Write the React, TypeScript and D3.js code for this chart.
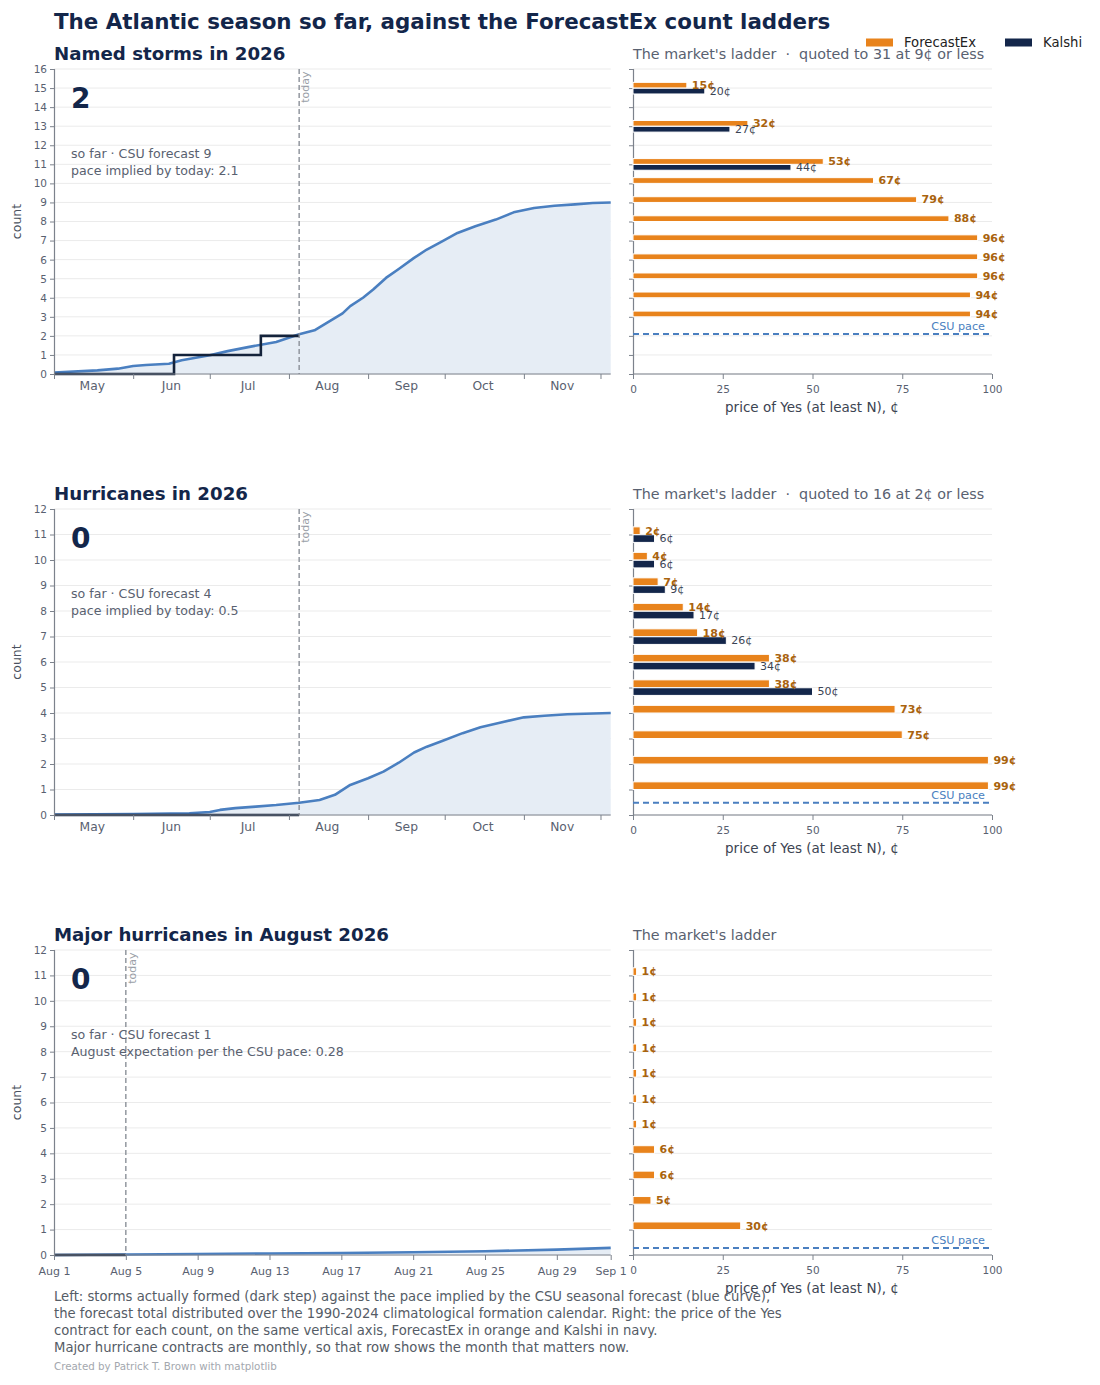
import { useEffect, useRef } from "react";
import * as d3 from "d3";

const TODAY = "2026-08-05";

// Named storms: CSU pace (cumulative expected count) and storms formed so far
const NAMED_PACE_DATES = [
  "2026-05-01", "2026-05-18", "2026-05-26", "2026-06-01", "2026-06-06", "2026-06-15",
  "2026-06-20", "2026-07-01", "2026-07-08", "2026-07-16", "2026-07-27", "2026-08-05",
  "2026-08-11", "2026-08-16", "2026-08-22", "2026-08-25", "2026-08-30", "2026-09-03",
  "2026-09-08", "2026-09-13", "2026-09-19", "2026-09-24", "2026-09-30", "2026-10-06",
  "2026-10-13", "2026-10-21", "2026-10-28", "2026-11-05", "2026-11-13", "2026-11-21",
  "2026-11-28", "2026-12-05",
];
const NAMED_PACE = [
  0.08, 0.19, 0.28, 0.42, 0.47, 0.54, 0.72, 0.98, 1.2, 1.41, 1.68, 2.08, 2.29, 2.69, 3.18,
  3.56, 4.0, 4.43, 5.04, 5.51, 6.09, 6.53, 6.96, 7.4, 7.75, 8.1, 8.48, 8.71, 8.83, 8.9, 8.97, 9.0,
];
const NAMED_FORMED = ["2026-06-17", "2026-07-21"];
const NAMED_FX_N = [15, 13, 11, 10, 9, 8, 7, 6, 5, 4, 3];
const NAMED_FX_PRICE = [15, 32, 53, 67, 79, 88, 96, 96, 96, 94, 94];
const NAMED_KALSHI_N = [15, 13, 11];
const NAMED_KALSHI_PRICE = [20, 27, 44];

// Hurricanes
const HURR_PACE_DATES = [
  "2026-05-01", "2026-06-01", "2026-06-23", "2026-07-01", "2026-07-05", "2026-07-11",
  "2026-07-19", "2026-07-27", "2026-08-05", "2026-08-13", "2026-08-19", "2026-08-25",
  "2026-09-01", "2026-09-07", "2026-09-13", "2026-09-19", "2026-09-24", "2026-09-30",
  "2026-10-08", "2026-10-15", "2026-10-23", "2026-11-01", "2026-11-09", "2026-11-18",
  "2026-12-05",
];
const HURR_PACE = [
  0.02, 0.04, 0.07, 0.12, 0.2, 0.27, 0.33, 0.39, 0.48, 0.59, 0.79, 1.18, 1.44, 1.7, 2.05,
  2.45, 2.68, 2.9, 3.21, 3.44, 3.63, 3.83, 3.89, 3.95, 4.0,
];
const HURR_FORMED: string[] = [];
const HURR_FX_N = [11, 10, 9, 8, 7, 6, 5, 4, 3, 2, 1];
const HURR_FX_PRICE = [2, 4, 7, 14, 18, 38, 38, 73, 75, 99, 99];
const HURR_KALSHI_N = [11, 10, 9, 8, 7, 6, 5];
const HURR_KALSHI_PRICE = [6, 6, 9, 17, 26, 34, 50];

// Major hurricanes in August
const MAJOR_PACE_DATES = [
  "2026-08-01", "2026-08-05", "2026-08-09", "2026-08-13", "2026-08-17", "2026-08-21",
  "2026-08-25", "2026-08-29", "2026-09-01",
];
const MAJOR_PACE = [0.0, 0.02, 0.04, 0.06, 0.08, 0.11, 0.15, 0.21, 0.28];
const MAJOR_FORMED: string[] = [];
const MAJOR_FX_N = [11, 10, 9, 8, 7, 6, 5, 4, 3, 2, 1];
const MAJOR_FX_PRICE = [1, 1, 1, 1, 1, 1, 1, 6, 6, 5, 30];
const MAJOR_KALSHI_N: number[] = [];
const MAJOR_KALSHI_PRICE: number[] = [];
const AUG_TICKS = [
  "2026-08-01", "2026-08-05", "2026-08-09", "2026-08-13", "2026-08-17", "2026-08-21",
  "2026-08-25", "2026-08-29", "2026-09-01",
];

const FOOTER = [
  "Left: storms actually formed (dark step) against the pace implied by the CSU seasonal forecast (blue curve),",
  "the forecast total distributed over the 1990-2024 climatological formation calendar. Right: the price of the Yes",
  "contract for each count, on the same vertical axis, ForecastEx in orange and Kalshi in navy.",
  "Major hurricane contracts are monthly, so that row shows the month that matters now.",
];

const FONT = "DejaVu Sans, sans-serif";
const NAVY = "#13264a";
const ORANGE = "#e8831c";
const ORANGE_TXT = "#a9630e";
const BLUE = "#4a7fc0";
const FILL = "#e6edf5";
const GRID = "#ebebeb";
const SPINE = "#7c828c";
const MUTED = "#596170";

const LEFT_X: [number, number] = [54, 610.7];
const RIGHT_X: [number, number] = [633, 992];

const ROWS = [
  {
    title: "Named storms in 2026", top: 69, bottom: 374, ymax: 16,
    start: "2026-05-01", end: "2026-12-05", monthly: true,
    big: "2", note1: "so far · CSU forecast 9", note2: "pace implied by today: 2.1", pace: 2.1,
    ladder: "The market's ladder  ·  quoted to 31 at 9¢ or less",
    paceDates: NAMED_PACE_DATES, paceVals: NAMED_PACE, formed: NAMED_FORMED,
    fxN: NAMED_FX_N, fxP: NAMED_FX_PRICE, kaN: NAMED_KALSHI_N, kaP: NAMED_KALSHI_PRICE,
  },
  {
    title: "Hurricanes in 2026", top: 509, bottom: 815, ymax: 12,
    start: "2026-05-01", end: "2026-12-05", monthly: true,
    big: "0", note1: "so far · CSU forecast 4", note2: "pace implied by today: 0.5", pace: 0.48,
    ladder: "The market's ladder  ·  quoted to 16 at 2¢ or less",
    paceDates: HURR_PACE_DATES, paceVals: HURR_PACE, formed: HURR_FORMED,
    fxN: HURR_FX_N, fxP: HURR_FX_PRICE, kaN: HURR_KALSHI_N, kaP: HURR_KALSHI_PRICE,
  },
  {
    title: "Major hurricanes in August 2026", top: 950, bottom: 1255, ymax: 12,
    start: "2026-08-01", end: "2026-09-01", monthly: false,
    big: "0", note1: "so far · CSU forecast 1", note2: "August expectation per the CSU pace: 0.28", pace: 0.28,
    ladder: "The market's ladder",
    paceDates: MAJOR_PACE_DATES, paceVals: MAJOR_PACE, formed: MAJOR_FORMED,
    fxN: MAJOR_FX_N, fxP: MAJOR_FX_PRICE, kaN: MAJOR_KALSHI_N, kaP: MAJOR_KALSHI_PRICE,
  },
];

function styleAxis(g: any, size: number) {
  g.attr("font-family", FONT);
  g.select(".domain").attr("stroke", SPINE).attr("stroke-width", 1.2);
  g.selectAll(".tick line").attr("stroke", SPINE);
  g.selectAll(".tick text").attr("fill", MUTED).attr("font-size", size);
}

export default function App() {
  const svgRef = useRef<SVGSVGElement>(null);

  useEffect(() => {
    if (!svgRef.current) return;
    const svg = d3.select(svgRef.current);
    svg.selectAll("*").remove();
    const parse = d3.timeParse("%Y-%m-%d");
    const today = parse(TODAY)!;

    svg.append("text")
      .attr("x", 54).attr("y", 28.5)
      .attr("font-size", 21.4).attr("font-weight", "bold").attr("fill", NAVY)
      .text("The Atlantic season so far, against the ForecastEx count ladders");

    // Legend
    const legend = [
      { label: "ForecastEx", color: ORANGE, x: 866 },
      { label: "Kalshi", color: NAVY, x: 1005 },
    ];
    legend.forEach((l) => {
      svg.append("rect").attr("x", l.x).attr("y", 38.5).attr("width", 27).attr("height", 8).attr("fill", l.color);
      svg.append("text").attr("x", l.x + 38).attr("y", 47).attr("font-size", 13.2).attr("fill", "#222")
        .text(l.label);
    });

    ROWS.forEach((row) => {
      const y = d3.scaleLinear().domain([0, row.ymax]).range([row.bottom, row.top]);
      const x = d3.scaleTime().domain([parse(row.start)!, parse(row.end)!]).range(LEFT_X);
      const counts = d3.range(0, row.ymax + 1);

      // ---- left: pace vs formed ----
      svg.append("g").selectAll("line").data(counts).join("line")
        .attr("x1", LEFT_X[0]).attr("x2", LEFT_X[1])
        .attr("y1", (d) => y(d)).attr("y2", (d) => y(d))
        .attr("stroke", GRID).attr("stroke-width", 1);

      const pts = row.paceDates.map((d, i) => ({ date: parse(d)!, v: row.paceVals[i] }));
      svg.append("path").datum(pts)
        .attr("fill", FILL)
        .attr("d", d3.area<any>().x((d) => x(d.date)).y0(y(0)).y1((d) => y(d.v)));
      svg.append("path").datum(pts)
        .attr("fill", "none").attr("stroke", BLUE).attr("stroke-width", 2.6)
        .attr("stroke-linejoin", "round")
        .attr("d", d3.line<any>().x((d) => x(d.date)).y((d) => y(d.v)));

      const steps = [{ date: parse(row.start)!, v: 0 }]
        .concat(row.formed.map((d, i) => ({ date: parse(d)!, v: i + 1 })))
        .concat([{ date: today, v: row.formed.length }]);
      svg.append("path").datum(steps)
        .attr("fill", "none").attr("stroke", "#14233b").attr("stroke-width", 2.6)
        .attr("d", d3.line<any>().x((d) => x(d.date)).y((d) => y(d.v)).curve(d3.curveStepAfter));

      // today marker
      const tx = x(today);
      svg.append("line")
        .attr("x1", tx).attr("x2", tx).attr("y1", row.top).attr("y2", row.bottom)
        .attr("stroke", "#8b9099").attr("stroke-width", 1.4).attr("stroke-dasharray", "5,3");
      svg.append("text")
        .attr("transform", `translate(${tx + 10},${row.top + 2.5}) rotate(-90)`)
        .attr("text-anchor", "end").attr("font-size", 11).attr("fill", "#9a9fa8")
        .text("today");

      // axes
      const ay = svg.append("g").attr("transform", `translate(${LEFT_X[0]},0)`)
        .call(d3.axisLeft(y).tickValues(counts).tickSize(4).tickPadding(3).tickFormat(d3.format("d")));
      styleAxis(ay, 10.5);

      if (row.monthly) {
        const months = d3.timeMonth.range(parse(row.start)!, parse(row.end)!);
        const ax = svg.append("g").attr("transform", `translate(0,${row.bottom})`)
          .call(d3.axisBottom(x).tickValues(months).tickSize(5).tickFormat(() => ""));
        styleAxis(ax, 11);
        ax.select(".domain").attr("d", `M${LEFT_X[0]},0H${LEFT_X[1]}`);
        svg.append("g").selectAll("text").data(months.filter((m) => m.getMonth() < 11)).join("text")
          .attr("x", (m) => x(d3.timeDay.offset(m, 15)))
          .attr("y", row.bottom + 16)
          .attr("text-anchor", "middle").attr("font-size", 12.3).attr("fill", MUTED)
          .text((m) => d3.timeFormat("%b")(m));
      } else {
        const ax = svg.append("g").attr("transform", `translate(0,${row.bottom})`)
          .call(d3.axisBottom(x).tickValues(AUG_TICKS.map((d) => parse(d)!)).tickSize(5).tickPadding(7)
            .tickFormat((d: any) => d3.timeFormat("%b %-d")(d)));
        styleAxis(ax, 11);
        ax.select(".domain").attr("d", `M${LEFT_X[0]},0H${LEFT_X[1]}`);
      }

      svg.append("text")
        .attr("transform", `translate(21,${(row.top + row.bottom) / 2}) rotate(-90)`)
        .attr("text-anchor", "middle").attr("font-size", 12.5).attr("fill", "#4a5260")
        .text("count");

      svg.append("text").attr("x", 54).attr("y", row.top - 9.5)
        .attr("font-size", 18.2).attr("font-weight", "bold").attr("fill", NAVY)
        .text(row.title);

      const noteY = y(row.ymax);
      svg.append("text").attr("x", 71).attr("y", noteY + 38.5)
        .attr("font-size", 28).attr("font-weight", "bold").attr("fill", NAVY)
        .text(row.big);
      svg.append("text").attr("x", 71).attr("y", noteY + 89)
        .attr("font-size", 12.6).attr("fill", MUTED).text(row.note1);
      svg.append("text").attr("x", 71).attr("y", noteY + 106)
        .attr("font-size", 12.6).attr("fill", MUTED).text(row.note2);

      // ---- right: market ladder ----
      const xr = d3.scaleLinear().domain([0, 100]).range(RIGHT_X);
      svg.append("g").selectAll("line").data(counts).join("line")
        .attr("x1", RIGHT_X[0]).attr("x2", RIGHT_X[1])
        .attr("y1", (d) => y(d)).attr("y2", (d) => y(d))
        .attr("stroke", GRID).attr("stroke-width", 1);

      const ry = svg.append("g").attr("transform", `translate(${RIGHT_X[0]},0)`)
        .call(d3.axisLeft(y).tickValues(counts).tickSize(4).tickFormat(() => ""));
      styleAxis(ry, 10);
      const rx = svg.append("g").attr("transform", `translate(0,${row.bottom})`)
        .call(d3.axisBottom(xr).tickValues([0, 25, 50, 75, 100]).tickSize(5).tickPadding(7));
      styleAxis(rx, 10.5);
      rx.select(".domain").attr("d", `M${RIGHT_X[0]},0H${RIGHT_X[1]}`);

      const bh = 0.3;
      const fx = row.fxN.map((n, i) => ({ n, p: row.fxP[i] }));
      const ka = row.kaN.map((n, i) => ({ n, p: row.kaP[i] }));

      // bars carry a thin white edge, as in the source
      svg.append("g").selectAll("rect").data(fx).join("rect")
        .attr("x", xr(0)).attr("width", (d) => xr(d.p) - xr(0))
        .attr("y", (d) => y(d.n + 0.15 + bh / 2)).attr("height", y(0) - y(bh))
        .attr("fill", ORANGE).attr("stroke", "#fff").attr("stroke-width", 1);
      svg.append("g").selectAll("rect").data(ka).join("rect")
        .attr("x", xr(0)).attr("width", (d) => xr(d.p) - xr(0))
        .attr("y", (d) => y(d.n - 0.16 + bh / 2)).attr("height", y(0) - y(bh))
        .attr("fill", NAVY).attr("stroke", "#fff").attr("stroke-width", 1);

      svg.append("g").selectAll("text").data(fx).join("text")
        .attr("x", (d) => xr(d.p) + 5).attr("y", (d) => y(d.n + 0.15))
        .attr("dy", "0.35em").attr("font-size", 11).attr("font-weight", "bold")
        .attr("fill", ORANGE_TXT).text((d) => `${d.p}¢`);
      svg.append("g").selectAll("text").data(ka).join("text")
        .attr("x", (d) => xr(d.p) + 5).attr("y", (d) => y(d.n - 0.16))
        .attr("dy", "0.35em").attr("font-size", 11)
        .attr("fill", "#3b4454").text((d) => `${d.p}¢`);

      svg.append("line")
        .attr("x1", RIGHT_X[0]).attr("x2", RIGHT_X[1]).attr("y1", y(row.pace)).attr("y2", y(row.pace))
        .attr("stroke", BLUE).attr("stroke-width", 2).attr("stroke-dasharray", "6,4");
      svg.append("text").attr("x", 985).attr("y", y(row.pace) - 4)
        .attr("text-anchor", "end").attr("font-size", 11.2).attr("fill", BLUE).text("CSU pace");

      svg.append("text").attr("x", 812).attr("y", row.bottom + 38)
        .attr("text-anchor", "middle").attr("font-size", 13.5).attr("fill", "#3c4452")
        .text("price of Yes (at least N), ¢");

      svg.append("text").attr("x", RIGHT_X[0]).attr("y", row.top - 10)
        .attr("font-size", 14.3).attr("fill", MUTED).attr("xml:space", "preserve")
        .style("white-space", "pre")
        .text(row.ladder);
    });

    svg.append("g").selectAll("text").data(FOOTER).join("text")
      .attr("x", 54).attr("y", (_, i) => 1301 + i * 17)
      .attr("font-size", 13.2).attr("fill", "#555c66").text((d) => d);
    svg.append("text").attr("x", 54).attr("y", 1370)
      .attr("font-size", 10.3).attr("fill", "#a3a7ae").text("Created by Patrick T. Brown with matplotlib");
  }, []);

  return (
    <svg
      ref={svgRef}
      width={1100}
      height={1385}
      style={{ position: "absolute", left: 0, top: 0, background: "#fff", fontFamily: FONT }}
    />
  );
}
